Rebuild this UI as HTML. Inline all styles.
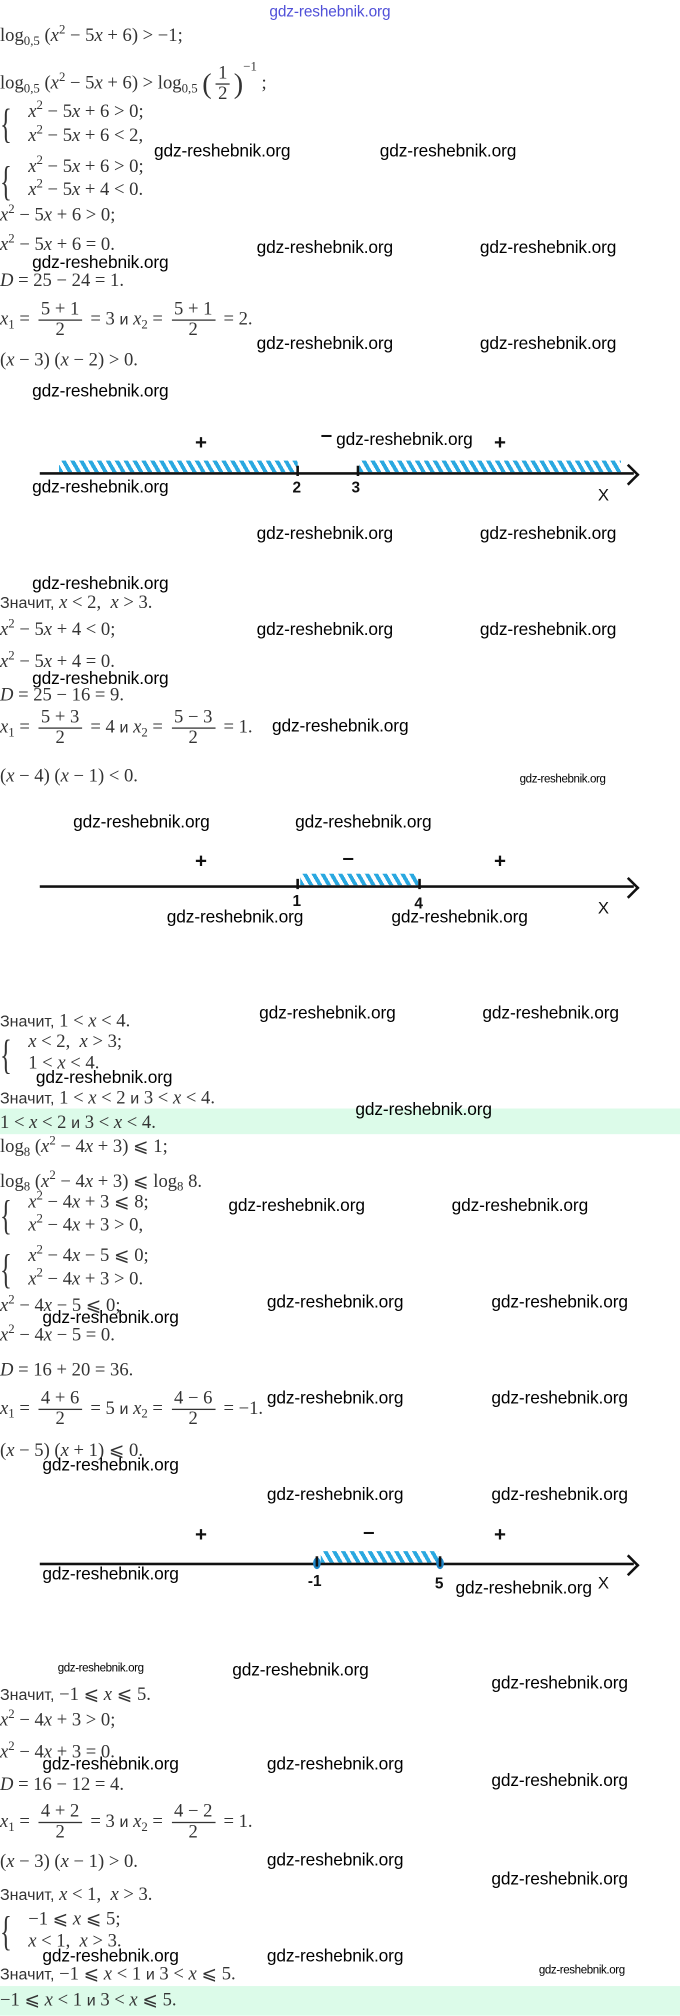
<!DOCTYPE html>
<html><head><meta charset="utf-8">
<style>
html,body{margin:0;padding:0;background:#fff;}
body{width:680px;height:2015px;overflow:hidden;position:relative;}
#w{position:absolute;left:0;top:0;width:530px;height:1571px;transform:scale(1.283);transform-origin:0 0;}
.l{position:absolute;left:0;white-space:nowrap;font-family:"Liberation Serif",serif;font-size:14.5px;color:#333;line-height:16px;}
.l i{font-style:italic;}
.l sup{font-size:10px;vertical-align:6px;line-height:0;}
.l sub{font-size:10px;vertical-align:-3px;line-height:0;}
.ru{font-family:"Liberation Sans",sans-serif;font-size:12.5px;}
.w{position:absolute;font-family:"Liberation Sans",sans-serif;font-size:13.5px;color:#000;white-space:nowrap;line-height:14px;letter-spacing:-0.1px;}
.ws{position:absolute;font-family:"Liberation Sans",sans-serif;font-size:9px;color:#000;white-space:nowrap;letter-spacing:-0.3px;}
.fr{display:inline-block;vertical-align:middle;text-align:center;margin:0 3px;}
.fr span{display:block;line-height:15px;padding:0 2px;}
.fr span+span{border-top:1px solid #333;}
.br{position:absolute;font-family:"Liberation Serif",serif;font-size:32px;color:#333;transform:scaleX(0.6);transform-origin:0 0;line-height:32px;}
.ax{position:absolute;height:2px;background:#111;}
.arr{position:absolute;width:10px;height:10px;border-top:2px solid #111;border-right:2px solid #111;transform:rotate(45deg);}
.h{position:absolute;height:9px;background:repeating-linear-gradient(60deg,#2aa8e0 0 3px,transparent 3px 6px);}
.tk{position:absolute;width:1.5px;height:8px;background:#111;}
.nl{position:absolute;font-family:"Liberation Sans",sans-serif;font-weight:bold;font-size:12px;color:#111;}
.sg{position:absolute;font-family:"Liberation Sans",sans-serif;font-weight:bold;font-size:16px;color:#111;}
.X{position:absolute;font-family:"Liberation Sans",sans-serif;font-size:13px;color:#111;}
.dot{position:absolute;width:6px;height:9px;border-radius:50%;background:#1f86c8;}
.g{position:absolute;left:0;width:530px;background:#dcfbe9;}
</style></head><body><div id="w">

<div class="w" style="left:210px;top:2px;color:#5050d8;font-size:12px;">gdz-reshebnik.org</div>

<div class="l" style="top:20px">log<sub>0,5</sub> (<i>x</i><sup>2</sup> − 5<i>x</i> + 6) &gt; −1;</div>
<div class="l" style="top:50px;line-height:30px">log<sub>0,5</sub> (<i>x</i><sup>2</sup> − 5<i>x</i> + 6) &gt; log<sub>0,5</sub> <span style="font-size:22px;vertical-align:middle">(</span><span class="fr"><span>1</span><span>2</span></span><span style="font-size:22px;vertical-align:middle">)</span><sup style="vertical-align:14px">−1</sup> ;</div>

<div class="br" style="left:0;top:80px">{</div>
<div class="l" style="left:22px;top:79px"><i>x</i><sup>2</sup> − 5<i>x</i> + 6 &gt; 0;</div>
<div class="l" style="left:22px;top:98px"><i>x</i><sup>2</sup> − 5<i>x</i> + 6 &lt; 2,</div>
<div class="w" style="left:120px;top:111px">gdz-reshebnik.org</div>
<div class="w" style="left:296px;top:111px">gdz-reshebnik.org</div>
<div class="br" style="left:0;top:125px">{</div>
<div class="l" style="left:22px;top:122px"><i>x</i><sup>2</sup> − 5<i>x</i> + 6 &gt; 0;</div>
<div class="l" style="left:22px;top:140px"><i>x</i><sup>2</sup> − 5<i>x</i> + 4 &lt; 0.</div>
<div class="l" style="top:160px"><i>x</i><sup>2</sup> − 5<i>x</i> + 6 &gt; 0;</div>
<div class="l" style="top:183px"><i>x</i><sup>2</sup> − 5<i>x</i> + 6 = 0.</div>
<div class="w" style="left:200px;top:186px">gdz-reshebnik.org</div>
<div class="w" style="left:374px;top:186px">gdz-reshebnik.org</div>
<div class="w" style="left:25px;top:198px">gdz-reshebnik.org</div>
<div class="l" style="top:211px"><i>D</i> = 25 − 24 = 1.</div>
<div class="l" style="top:233px;line-height:32px"><i>x</i><sub>1</sub> = <span class="fr"><span>5 + 1</span><span>2</span></span> = 3 <span class="ru">и</span> <i>x</i><sub>2</sub> = <span class="fr"><span>5 + 1</span><span>2</span></span> = 2.</div>
<div class="w" style="left:200px;top:261px">gdz-reshebnik.org</div>
<div class="w" style="left:374px;top:261px">gdz-reshebnik.org</div>
<div class="l" style="top:273px">(<i>x</i> − 3) (<i>x</i> − 2) &gt; 0.</div>
<div class="w" style="left:25px;top:298px">gdz-reshebnik.org</div>

<!-- number line 1 -->
<div class="h" style="left:46px;top:359px;width:186px"></div>
<div class="h" style="left:280px;top:359px;width:204px"></div>
<div class="ax" style="left:31px;top:368px;width:463px"></div>
<div class="arr" style="left:484px;top:364px"></div>
<div class="tk" style="left:231px;top:363px"></div>
<div class="tk" style="left:278px;top:363px"></div>
<div class="nl" style="left:228px;top:373px">2</div>
<div class="nl" style="left:274px;top:373px">3</div>
<div class="sg" style="left:152px;top:337px">+</div>
<div class="sg" style="left:250px;top:331px">–</div>
<div class="sg" style="left:385px;top:337px">+</div>
<div class="w" style="left:262px;top:336px">gdz-reshebnik.org</div>
<div class="w" style="left:25px;top:373px">gdz-reshebnik.org</div>
<div class="X" style="left:466px;top:378px">X</div>
<div class="w" style="left:200px;top:409px">gdz-reshebnik.org</div>
<div class="w" style="left:374px;top:409px">gdz-reshebnik.org</div>
<div class="w" style="left:25px;top:448px">gdz-reshebnik.org</div>

<div class="l" style="top:462px"><span class="ru">Значит,</span> <i>x</i> &lt; 2,&nbsp; <i>x</i> &gt; 3.</div>
<div class="l" style="top:483px"><i>x</i><sup>2</sup> − 5<i>x</i> + 4 &lt; 0;</div>
<div class="w" style="left:200px;top:484px">gdz-reshebnik.org</div>
<div class="w" style="left:374px;top:484px">gdz-reshebnik.org</div>
<div class="l" style="top:508px"><i>x</i><sup>2</sup> − 5<i>x</i> + 4 = 0.</div>
<div class="w" style="left:25px;top:522px">gdz-reshebnik.org</div>
<div class="l" style="top:534px"><i>D</i> = 25 − 16 = 9.</div>
<div class="l" style="top:551px;line-height:32px"><i>x</i><sub>1</sub> = <span class="fr"><span>5 + 3</span><span>2</span></span> = 4 <span class="ru">и</span> <i>x</i><sub>2</sub> = <span class="fr"><span>5 − 3</span><span>2</span></span> = 1.</div>
<div class="w" style="left:212px;top:559px">gdz-reshebnik.org</div>
<div class="l" style="top:597px">(<i>x</i> − 4) (<i>x</i> − 1) &lt; 0.</div>
<div class="ws" style="left:405px;top:602px">gdz-reshebnik.org</div>
<div class="w" style="left:57px;top:634px">gdz-reshebnik.org</div>
<div class="w" style="left:230px;top:634px">gdz-reshebnik.org</div>

<!-- number line 2 -->
<div class="h" style="left:234px;top:681px;width:92px"></div>
<div class="ax" style="left:31px;top:690px;width:463px"></div>
<div class="arr" style="left:484px;top:686px"></div>
<div class="tk" style="left:231px;top:685px"></div>
<div class="tk" style="left:326px;top:685px"></div>
<div class="nl" style="left:228px;top:695px">1</div>
<div class="nl" style="left:323px;top:697px">4</div>
<div class="sg" style="left:152px;top:663px">+</div>
<div class="sg" style="left:267px;top:661px">–</div>
<div class="sg" style="left:385px;top:663px">+</div>
<div class="w" style="left:130px;top:708px">gdz-reshebnik.org</div>
<div class="w" style="left:305px;top:708px">gdz-reshebnik.org</div>
<div class="X" style="left:466px;top:700px">X</div>

<div class="l" style="top:788px"><span class="ru">Значит,</span> 1 &lt; <i>x</i> &lt; 4.</div>
<div class="w" style="left:202px;top:783px">gdz-reshebnik.org</div>
<div class="w" style="left:376px;top:783px">gdz-reshebnik.org</div>
<div class="br" style="left:0;top:806px">{</div>
<div class="l" style="left:22px;top:804px"><i>x</i> &lt; 2,&nbsp; <i>x</i> &gt; 3;</div>
<div class="l" style="left:22px;top:821px">1 &lt; <i>x</i> &lt; 4.</div>
<div class="w" style="left:28px;top:833px">gdz-reshebnik.org</div>
<div class="l" style="top:848px"><span class="ru">Значит,</span> 1 &lt; <i>x</i> &lt; 2 <span class="ru">и</span> 3 &lt; <i>x</i> &lt; 4.</div>
<div class="g" style="top:864px;height:20px"></div>
<div class="l" style="top:867px">1 &lt; <i>x</i> &lt; 2 <span class="ru">и</span> 3 &lt; <i>x</i> &lt; 4.</div>
<div class="w" style="left:277px;top:858px">gdz-reshebnik.org</div>
<div class="l" style="top:886px">log<sub>8</sub> (<i>x</i><sup>2</sup> − 4<i>x</i> + 3) ⩽ 1;</div>
<div class="l" style="top:913px">log<sub>8</sub> (<i>x</i><sup>2</sup> − 4<i>x</i> + 3) ⩽ log<sub>8</sub> 8.</div>
<div class="br" style="left:0;top:931px">{</div>
<div class="l" style="left:22px;top:929px"><i>x</i><sup>2</sup> − 4<i>x</i> + 3 ⩽ 8;</div>
<div class="l" style="left:22px;top:947px"><i>x</i><sup>2</sup> − 4<i>x</i> + 3 &gt; 0,</div>
<div class="w" style="left:178px;top:933px">gdz-reshebnik.org</div>
<div class="w" style="left:352px;top:933px">gdz-reshebnik.org</div>
<div class="br" style="left:0;top:973px">{</div>
<div class="l" style="left:22px;top:971px"><i>x</i><sup>2</sup> − 4<i>x</i> − 5 ⩽ 0;</div>
<div class="l" style="left:22px;top:989px"><i>x</i><sup>2</sup> − 4<i>x</i> + 3 &gt; 0.</div>
<div class="l" style="top:1010px"><i>x</i><sup>2</sup> − 4<i>x</i> − 5 ⩽ 0;</div>
<div class="w" style="left:208px;top:1008px">gdz-reshebnik.org</div>
<div class="w" style="left:383px;top:1008px">gdz-reshebnik.org</div>
<div class="w" style="left:33px;top:1020px">gdz-reshebnik.org</div>
<div class="l" style="top:1033px"><i>x</i><sup>2</sup> − 4<i>x</i> − 5 = 0.</div>
<div class="l" style="top:1060px"><i>D</i> = 16 + 20 = 36.</div>
<div class="l" style="top:1082px;line-height:32px"><i>x</i><sub>1</sub> = <span class="fr"><span>4 + 6</span><span>2</span></span> = 5 <span class="ru">и</span> <i>x</i><sub>2</sub> = <span class="fr"><span>4 − 6</span><span>2</span></span> = −1.</div>
<div class="w" style="left:208px;top:1083px">gdz-reshebnik.org</div>
<div class="w" style="left:383px;top:1083px">gdz-reshebnik.org</div>
<div class="l" style="top:1123px">(<i>x</i> − 5) (<i>x</i> + 1) ⩽ 0.</div>
<div class="w" style="left:33px;top:1135px">gdz-reshebnik.org</div>
<div class="w" style="left:208px;top:1158px">gdz-reshebnik.org</div>
<div class="w" style="left:383px;top:1158px">gdz-reshebnik.org</div>

<!-- number line 3 -->
<div class="h" style="left:250px;top:1209px;width:92px"></div>
<div class="ax" style="left:31px;top:1218px;width:463px"></div>
<div class="arr" style="left:484px;top:1214px"></div>
<div class="dot" style="left:244px;top:1214px"></div>
<div class="dot" style="left:340px;top:1214px"></div>
<div class="tk" style="left:246px;top:1213px"></div>
<div class="tk" style="left:342px;top:1213px"></div>
<div class="nl" style="left:240px;top:1225px">-1</div>
<div class="nl" style="left:339px;top:1227px">5</div>
<div class="sg" style="left:152px;top:1188px">+</div>
<div class="sg" style="left:283px;top:1186px">–</div>
<div class="sg" style="left:385px;top:1188px">+</div>
<div class="w" style="left:33px;top:1220px">gdz-reshebnik.org</div>
<div class="w" style="left:355px;top:1231px">gdz-reshebnik.org</div>
<div class="X" style="left:466px;top:1226px">X</div>

<div class="ws" style="left:45px;top:1295px">gdz-reshebnik.org</div>
<div class="w" style="left:181px;top:1295px">gdz-reshebnik.org</div>
<div class="w" style="left:383px;top:1305px">gdz-reshebnik.org</div>
<div class="l" style="top:1313px"><span class="ru">Значит,</span> −1 ⩽ <i>x</i> ⩽ 5.</div>
<div class="l" style="top:1333px"><i>x</i><sup>2</sup> − 4<i>x</i> + 3 &gt; 0;</div>
<div class="l" style="top:1358px"><i>x</i><sup>2</sup> − 4<i>x</i> + 3 = 0.</div>
<div class="w" style="left:33px;top:1368px">gdz-reshebnik.org</div>
<div class="w" style="left:208px;top:1368px">gdz-reshebnik.org</div>
<div class="w" style="left:383px;top:1381px">gdz-reshebnik.org</div>
<div class="l" style="top:1383px"><i>D</i> = 16 − 12 = 4.</div>
<div class="l" style="top:1404px;line-height:32px"><i>x</i><sub>1</sub> = <span class="fr"><span>4 + 2</span><span>2</span></span> = 3 <span class="ru">и</span> <i>x</i><sub>2</sub> = <span class="fr"><span>4 − 2</span><span>2</span></span> = 1.</div>
<div class="l" style="top:1443px">(<i>x</i> − 3) (<i>x</i> − 1) &gt; 0.</div>
<div class="w" style="left:208px;top:1443px">gdz-reshebnik.org</div>
<div class="w" style="left:383px;top:1458px">gdz-reshebnik.org</div>
<div class="l" style="top:1469px"><span class="ru">Значит,</span> <i>x</i> &lt; 1,&nbsp; <i>x</i> &gt; 3.</div>
<div class="br" style="left:0;top:1489px">{</div>
<div class="l" style="left:22px;top:1488px">−1 ⩽ <i>x</i> ⩽ 5;</div>
<div class="l" style="left:22px;top:1505px"><i>x</i> &lt; 1,&nbsp; <i>x</i> &gt; 3.</div>
<div class="w" style="left:33px;top:1518px">gdz-reshebnik.org</div>
<div class="w" style="left:208px;top:1518px">gdz-reshebnik.org</div>
<div class="l" style="top:1531px"><span class="ru">Значит,</span> −1 ⩽ <i>x</i> &lt; 1 <span class="ru">и</span> 3 &lt; <i>x</i> ⩽ 5.</div>
<div class="ws" style="left:420px;top:1530px">gdz-reshebnik.org</div>
<div class="g" style="top:1548px;height:23px"></div>
<div class="l" style="top:1551px">−1 ⩽ <i>x</i> &lt; 1 <span class="ru">и</span> 3 &lt; <i>x</i> ⩽ 5.</div>

</div></body></html>
